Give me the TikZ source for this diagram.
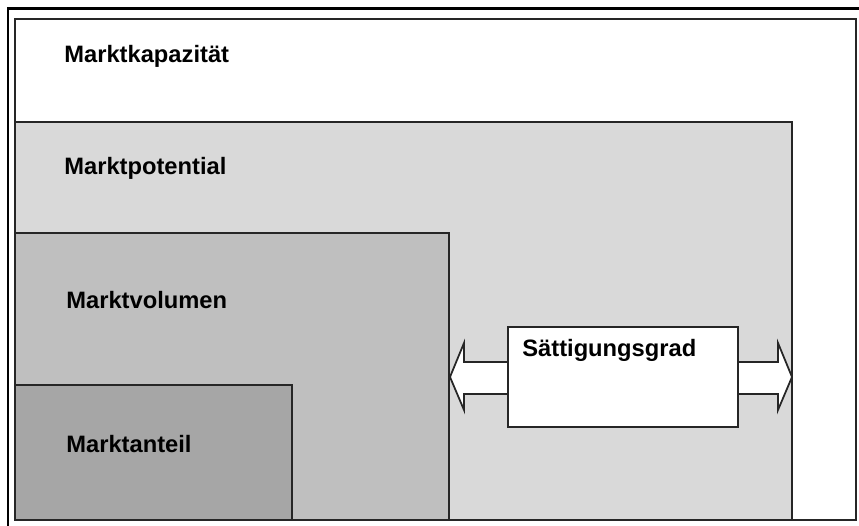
\documentclass[tikz,border=0pt]{standalone}
\usepackage{fontspec}
\setmainfont{Liberation Sans}
\usetikzlibrary{calc}
\definecolor{potgray}{HTML}{D9D9D9}
\definecolor{volgray}{HTML}{BFBFBF}
\definecolor{antgray}{HTML}{A6A6A6}
\begin{document}
\begin{tikzpicture}
[x=0.02cm, y=-0.02cm,
 area/.style={draw=black!85, line width=1pt},
 lbl/.style={anchor=base west, inner sep=0pt, font=\fontsize{13.5}{15}\selectfont\bfseries},
 sattbox/.style={draw=black!85, line width=1pt, fill=white, anchor=north west, inner sep=0pt,
   minimum width=4.6cm, minimum height=2cm}]
\useasboundingbox (0,0) rectangle (859,526);
\draw [line width=1.7pt] (8,526) -- (8,9) -- (859,9);

\draw [area, fill=white] (15,19) rectangle (856,520);
\draw [area, fill=potgray] (15,122) rectangle (792,520);
\draw [area, fill=volgray] (15,233) rectangle (449,520);
\draw [area, fill=antgray] (15,385) rectangle (292,520);

\node (Kap) at (64,63) [lbl] {Marktkapazität};
\node (Pot) at (64,175) [lbl] {Marktpotential};
\node (Vol) at (66,309) [lbl] {Marktvolumen};
\node (Ant) at (66,453) [lbl] {Marktanteil};

\coordinate (VolTip) at (450,377);
\coordinate (PotTip) at (792,377);
\draw [area, fill=white] (VolTip) -- ++(14,-34) -- ++(0,19) -- ($(PotTip)+(-14,-15)$)
  -- ++(0,-19) -- (PotTip) -- ++(-14,33) -- ++(0,-16) -- ($(VolTip)+(14,17)$)
  -- ++(0,16) -- cycle;

\node (Satt) at (507,326) [sattbox] {};
\node (SattText) at (522,357) [lbl] {Sättigungsgrad};
\end{tikzpicture}
\end{document}
